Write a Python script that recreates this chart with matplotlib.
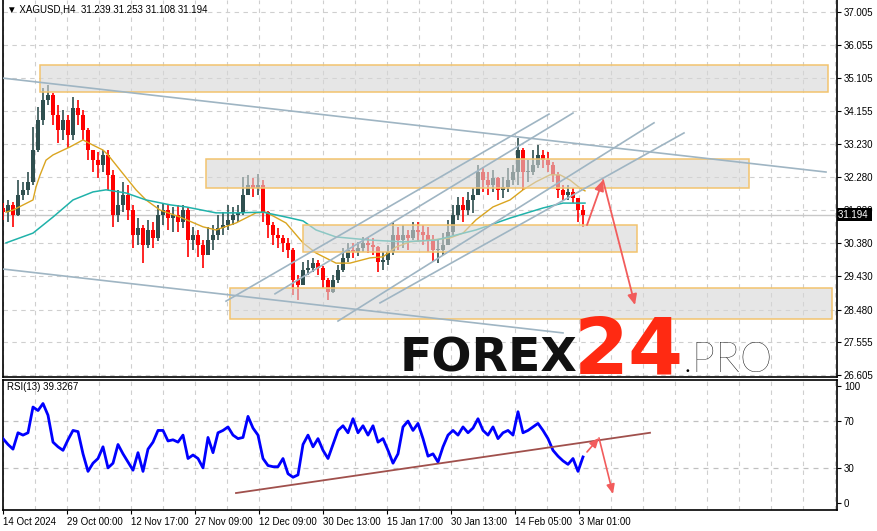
import matplotlib
matplotlib.use('Agg')
import matplotlib.pyplot as plt
import matplotlib.transforms as mtransforms
from matplotlib.patches import Rectangle
import numpy as np

plt.rcParams['font.family'] = ['Liberation Sans', 'DejaVu Sans']
plt.rcParams['font.size'] = 7

# XAGUSD H4, one candle drawn per 5 bars (x = bar offset)
close = [31.27, 31.48, 31.19, 31.76, 31.91, 32.13, 33.05, 33.91, 34.48, 34.63,
         34.05, 33.62, 33.91, 33.48, 34.25, 34.05, 33.62, 33.05, 32.76, 32.62,
         32.91, 32.34, 31.19, 31.48, 31.76, 31.33, 30.62, 30.82, 30.33, 30.76,
         30.53, 31.19, 31.33, 31.10, 31.19, 30.99, 31.33, 30.47, 30.62, 30.33,
         30.04, 30.47, 30.62, 30.82, 30.90, 31.05, 31.19, 31.25, 31.76, 32.05,
         31.96, 32.05, 31.27, 30.90, 30.62, 30.53, 30.39, 30.19, 29.33, 29.18,
         29.61, 29.67, 29.81, 29.67, 29.33, 28.98, 29.33, 29.61, 29.96, 30.19,
         30.13, 30.24, 30.39, 30.33, 30.27, 29.84, 29.90, 30.13, 30.62, 30.47,
         30.62, 30.53, 30.76, 30.70, 30.62, 30.47, 30.19, 30.19, 30.33, 30.70,
         31.19, 31.48, 31.33, 31.62, 31.76, 32.42, 32.19, 32.05, 32.25, 31.91,
         31.99, 32.19, 32.42, 33.05, 32.42, 32.42, 32.62, 32.91, 32.76, 32.62,
         32.34, 31.91, 31.76, 31.85, 31.68, 31.33, 31.194]
high = [31.53, 31.62, 31.56, 32.19, 32.13, 32.42, 33.71, 34.28, 34.83, 34.91,
        34.68, 34.34, 34.20, 34.05, 34.57, 34.48, 34.20, 33.68, 33.05, 32.99,
        33.05, 33.05, 32.48, 31.91, 32.13, 32.05, 31.48, 31.10, 30.90, 31.05,
        30.99, 31.48, 31.53, 31.48, 31.42, 31.48, 31.48, 31.40, 30.85, 30.76,
        30.47, 30.85, 30.90, 31.19, 31.27, 31.48, 31.42, 31.48, 32.28, 32.34,
        32.25, 32.36, 32.19, 31.30, 30.99, 30.82, 30.62, 30.53, 30.25, 29.47,
        29.84, 29.90, 29.96, 29.90, 29.72, 29.38, 29.47, 29.76, 30.24, 30.39,
        30.39, 30.42, 30.56, 30.53, 30.53, 30.30, 30.13, 30.33, 30.99, 30.85,
        30.90, 30.76, 30.99, 30.99, 30.90, 30.85, 30.62, 30.47, 30.67, 31.05,
        31.48, 31.70, 31.70, 31.85, 31.96, 32.62, 32.56, 32.42, 32.48, 32.28,
        32.28, 32.54, 32.62, 33.40, 33.10, 32.76, 33.05, 33.19, 33.05, 32.99,
        32.71, 32.42, 32.05, 32.05, 31.96, 31.68, 31.48]
low = [31.05, 30.99, 30.85, 31.15, 31.62, 31.76, 32.05, 33.00, 33.77, 34.34,
       33.77, 33.25, 33.34, 33.11, 33.34, 33.77, 33.34, 32.76, 32.42, 32.25,
       32.42, 31.91, 30.85, 30.99, 31.27, 31.05, 30.24, 30.33, 29.81, 30.24,
       30.24, 30.45, 30.90, 30.76, 30.70, 30.70, 30.82, 29.99, 30.19, 29.99,
       29.67, 30.04, 30.19, 30.47, 30.62, 30.76, 30.90, 30.99, 31.19, 31.76,
       31.70, 31.76, 30.99, 30.53, 30.33, 30.24, 30.13, 29.96, 28.90, 28.75,
       29.18, 29.47, 29.56, 29.47, 29.10, 28.75, 28.95, 29.24, 29.55, 29.84,
       29.96, 30.01, 30.13, 30.10, 30.04, 29.56, 29.61, 29.76, 30.05, 30.19,
       30.24, 30.19, 30.47, 30.42, 30.33, 30.13, 29.84, 29.81, 30.04, 30.33,
       30.62, 31.05, 30.99, 31.19, 31.25, 31.76, 31.85, 31.76, 31.85, 31.62,
       31.68, 31.85, 32.05, 32.05, 31.91, 32.13, 32.34, 32.54, 32.54, 32.42,
       32.13, 31.68, 31.62, 31.62, 31.53, 30.99, 30.85]
first_open = 31.40

rsi = [55, 50, 46, 60, 58, 60, 82, 79, 85, 75,
       52, 48, 45, 54, 62, 61, 42, 27, 34, 38,
       48, 30, 34, 50, 42, 35, 28, 43, 27, 46,
       52, 62, 62, 53, 54, 52, 58, 38, 41, 38,
       30, 56, 43, 60, 62, 65, 58, 55, 56, 74,
       64, 58, 38, 32, 31, 31, 38, 25, 22, 24,
       50, 58, 48, 55, 45, 38, 50, 62, 66, 60,
       72, 60, 66, 58, 66, 52, 55, 45, 34, 42,
       65, 70, 62, 68, 55, 40, 42, 35, 48, 58,
       62, 58, 65, 60, 64, 72, 62, 58, 65, 55,
       60, 62, 58, 78, 60, 62, 65, 68, 62, 55,
       45, 40, 36, 33, 38, 27, 39.33]

# moving averages, read at these bar offsets
ma_fast_x = [3, 10, 30, 33, 37, 43, 50, 67, 80, 90, 100, 105, 117, 133, 143, 157, 177,
             200, 213, 233, 253, 263, 283, 300, 313, 333, 347, 367, 380, 393, 407, 427,
             447, 460, 473, 490, 507, 520, 533, 547, 557, 567, 577, 582]
ma_fast = [31.27, 31.33, 31.62, 31.99, 32.33, 32.76, 32.91, 33.14, 33.34, 33.19, 33.05,
           32.91, 32.48, 31.91, 31.62, 31.33, 31.13, 30.85, 30.76, 30.96, 31.25, 31.27,
           30.96, 30.39, 30.10, 29.81, 29.81, 29.96, 29.99, 30.27, 30.42, 30.47, 30.53,
           30.67, 31.05, 31.42, 31.62, 31.91, 32.14, 32.34, 32.34, 32.19, 31.96, 31.88]
ma_slow_x = [3, 30, 50, 70, 90, 103, 123, 143, 167, 183, 213, 233, 260, 283, 300, 313,
             333, 367, 400, 433, 473, 507, 540, 560, 582]
ma_slow = [30.39, 30.67, 31.13, 31.62, 31.85, 31.91, 31.82, 31.62, 31.48, 31.42, 31.25,
           31.25, 31.27, 31.13, 31.02, 30.76, 30.56, 30.47, 30.42, 30.47, 30.76, 31.10,
           31.39, 31.53, 31.53]

price_ticks = [37.005, 36.055, 35.105, 34.155, 33.230, 32.280, 31.330, 30.380,
               29.430, 28.480, 27.555, 26.605]
date_labels = ['14 Oct 2024', '29 Oct 00:00', '12 Nov 17:00', '27 Nov 09:00',
               '12 Dec 09:00', '30 Dec 13:00', '15 Jan 17:00', '30 Jan 13:00',
               '14 Feb 05:00', '3 Mar 01:00']

# analysis drawings: (x0, x1, price_top, price_bottom)
zones = [(37, 825, 35.49, 34.71), (203, 746, 32.79, 31.96),
         (300, 634, 30.90, 30.13), (227, 829, 29.10, 28.21)]
trend_lines = [((0, 35.11), (823, 32.42)), ((0, 29.64), (560, 27.81)),
               ((223, 28.72), (546, 34.08)), ((272, 28.93), (570, 34.11)),
               ((335, 28.15), (651, 33.83)), ((377, 28.67), (681, 33.54))]

W, H = 878, 531
fig = plt.figure(figsize=(8.78, 5.31), dpi=100)
ax = fig.add_axes([3 / W, 1 - 377 / H, 834 / W, 377 / H])
ax2 = fig.add_axes([3 / W, 1 - 510 / H, 834 / W, 130 / H])

grid_col = '#cfcfcf'
dash = (0, (4, 4))

# ---- price panel ----
ax.set_xlim(0, 834)
ax.set_ylim(26.547, 37.349)
for gx in range(0, 834, 32):
    ax.axvline(gx, color=grid_col, ls=dash, lw=0.8, zorder=0)
    ax2.axvline(gx, color=grid_col, ls=dash, lw=0.8, zorder=0)
for p in price_ticks:
    ax.axhline(p, color=grid_col, ls=dash, lw=0.8, zorder=0)
ax.axhline(close[-1], color='#c8c8c8', lw=1, zorder=1)

c = np.array(close)
o = np.array([first_open] + close[:-1])
x = np.arange(len(close)) * 5
cols = np.where(c >= o, '#2F4F4F', '#FF0000')
ax.vlines(x, low, high, colors=cols, lw=1.2, zorder=3)
ax.bar(x, np.maximum(np.abs(c - o), 0.02), bottom=np.minimum(c, o), width=3.6,
       color=cols, linewidth=0, zorder=3)

ax.plot(ma_fast_x, ma_fast, color='#DAA520', lw=1, zorder=3)
ax.plot(ma_slow_x, ma_slow, color='#20B2AA', lw=1.1, zorder=3)

for x0, x1, top, bot in zones:
    ax.add_patch(Rectangle((x0, bot), x1 - x0, top - bot, facecolor='#d6d6d6',
                           alpha=0.6, edgecolor='none', zorder=4))
    ax.add_patch(Rectangle((x0, bot), x1 - x0, top - bot, facecolor='none',
                           edgecolor='#f2c46e', lw=1.1, zorder=4))

for (x0, y0), (x1, y1) in trend_lines:
    ax.plot([x0, x1], [y0, y1], color='#9fb5c3', lw=1.2, zorder=5)

arrow_col = '#f25c5c'
ax.annotate('', xy=(600, 32.19), xytext=(584, 30.90),
            arrowprops=dict(arrowstyle='-|>,head_length=0.9,head_width=0.4', color=arrow_col,
                            lw=1.3, shrinkA=0, shrinkB=0), zorder=6)
ax.annotate('', xy=(632, 28.61), xytext=(600, 32.19),
            arrowprops=dict(arrowstyle='-|>,head_length=0.9,head_width=0.4', color=arrow_col,
                            lw=1.3, shrinkA=0, shrinkB=0), zorder=6)

ax.yaxis.tick_right()
ax.set_yticks(price_ticks)
ax.set_yticklabels([f'{p:.3f}' for p in price_ticks])
ax.tick_params(axis='y', length=3, pad=2, labelsize=7)
ax.set_xticks([])
ax.spines['top'].set_visible(False)
for s in ['left', 'right', 'bottom']:
    ax.spines[s].set_linewidth(1.2)

trans = mtransforms.blended_transform_factory(ax.transAxes, ax.transData)
ax.text(1.0015, close[-1], '31.194 ', transform=trans, ha='left', va='center',
        color='white', fontsize=7, zorder=10, clip_on=False,
        bbox=dict(facecolor='black', edgecolor='none', pad=1.2))

# ---- RSI panel ----
ax2.set_xlim(0, 834)
ax2.set_ylim(-6.0, 105.1)
for lvl in [70, 30]:
    ax2.axhline(lvl, color='#c0c0c0', ls=dash, lw=0.9, zorder=0)
ax2.plot(x, rsi, color='#0000FF', lw=2, zorder=3)
ax2.plot([233, 647], [8.5, 60], color='#a0504c', lw=1.3, zorder=4)
ax2.annotate('', xy=(596, 55.6), xytext=(584, 43.6),
             arrowprops=dict(arrowstyle='-|>,head_length=0.8,head_width=0.35', color=arrow_col,
                             lw=1.2, shrinkA=0, shrinkB=0), zorder=6)
ax2.annotate('', xy=(610, 7.7), xytext=(596, 55.6),
             arrowprops=dict(arrowstyle='-|>,head_length=0.8,head_width=0.35', color=arrow_col,
                             lw=1.2, shrinkA=0, shrinkB=0), zorder=6)
ax2.yaxis.tick_right()
ax2.set_yticks([100, 70, 30, 0])
ax2.tick_params(axis='y', length=3, pad=2, labelsize=7)
ax2.set_xticks(range(0, 640, 64))
ax2.set_xticklabels(date_labels, ha='left')
ax2.tick_params(axis='x', length=3, pad=2, labelsize=7)
for s in ax2.spines.values():
    s.set_linewidth(1.2)

# ---- texts ----
fig.text(7 / W, 1 - 10 / H, '\u25bc XAGUSD,H4  31.239 31.253 31.108 31.194',
         fontsize=7, va='center', ha='left')
fig.text(7 / W, 1 - 387 / H, 'RSI(13) 39.3267', fontsize=7, va='center', ha='left')

fig.text(400 / W, 1 - 372 / H, 'FOREX', family='DejaVu Sans', fontweight='bold',
         fontsize=34, color='#111111', va='baseline', ha='left', zorder=20)
fig.text(574 / W, 1 - 373 / H, '24', family='DejaVu Sans', fontweight='bold',
         fontsize=57, color='#ff2a12', va='baseline', ha='left', zorder=20)
fig.text(683 / W, 1 - 372 / H, '.PRO', family='Lato', fontweight='light',
         fontsize=30, color='#000000', va='baseline', ha='left', zorder=20)

fig.savefig('out.png', dpi=100)
